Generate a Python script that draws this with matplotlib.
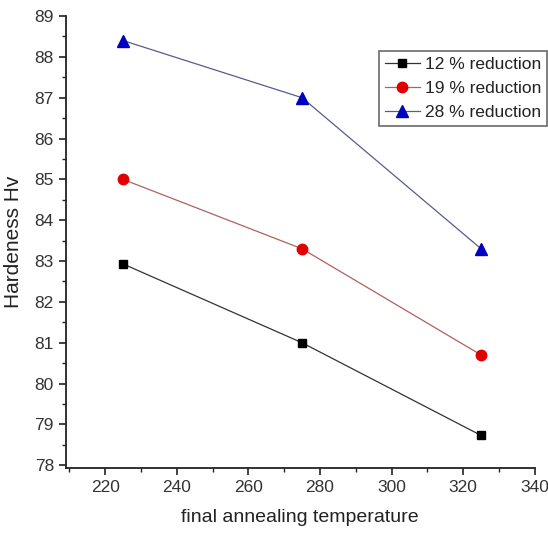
import matplotlib
matplotlib.use("Agg")
import matplotlib.pyplot as plt
from matplotlib.ticker import MultipleLocator
from matplotlib import font_manager

# data
temperature = [225, 275, 325]
hv_12 = [82.93, 81.0, 78.73]
hv_19 = [85.0, 83.3, 80.7]
hv_28 = [88.4, 87.0, 83.3]
labels = ["12 % reduction", "19 % reduction", "28 % reduction"]

names = {f.name for f in font_manager.fontManager.ttflist}
family = "Liberation Sans Narrow" if "Liberation Sans Narrow" in names else "Liberation Sans"
plt.rcParams["font.family"] = [family, "DejaVu Sans"]

fig = plt.figure(figsize=(5.48, 5.35), dpi=100)
ax = fig.add_axes([0.12, 0.125, 0.856, 0.845])

ax.plot(temperature, hv_12, color="#333333", lw=0.9, marker="s", ms=6,
        mfc="black", mec="black", label=labels[0])
ax.plot(temperature, hv_19, color="#b06060", lw=0.9, marker="o", ms=7.5,
        mfc="#e00000", mec="#e00000", label=labels[1])
ax.plot(temperature, hv_28, color="#5a5a90", lw=0.9, marker="^", ms=8.5,
        mfc="#0000c0", mec="#0000c0", label=labels[2])

ax.set_xlim(209, 340)
ax.set_ylim(77.93, 89)
ax.xaxis.set_major_locator(MultipleLocator(20))
ax.xaxis.set_minor_locator(MultipleLocator(10))
ax.yaxis.set_major_locator(MultipleLocator(1))
ax.yaxis.set_minor_locator(MultipleLocator(0.5))

for side in ("top", "right"):
    ax.spines[side].set_visible(False)
for side in ("left", "bottom"):
    ax.spines[side].set_linewidth(1.3)
    ax.spines[side].set_color("#222222")

ax.tick_params(which="major", direction="out", length=5, width=1.2,
               labelsize=12.5, labelcolor="#333333", color="#222222")
ax.tick_params(which="minor", direction="out", length=3, width=1.0, color="#222222")

ax.set_xlabel("final annealing temperature", fontsize=14, color="#222222", labelpad=10)
ax.set_ylabel("Hardeness Hv", fontsize=15, color="#222222", labelpad=8)

leg = ax.legend(loc="upper left", bbox_to_anchor=(379 / 548, 1 - 51 / 535),
                bbox_transform=fig.transFigure, fontsize=12.5, frameon=True,
                fancybox=False, borderpad=0.35, labelspacing=0.5,
                handlelength=2.0, handletextpad=0.3, borderaxespad=0)
leg.get_frame().set_edgecolor("#444444")
leg.get_frame().set_linewidth(1.2)
for t in leg.get_texts():
    t.set_color("#222222")

fig.savefig("out.png", dpi=100)
